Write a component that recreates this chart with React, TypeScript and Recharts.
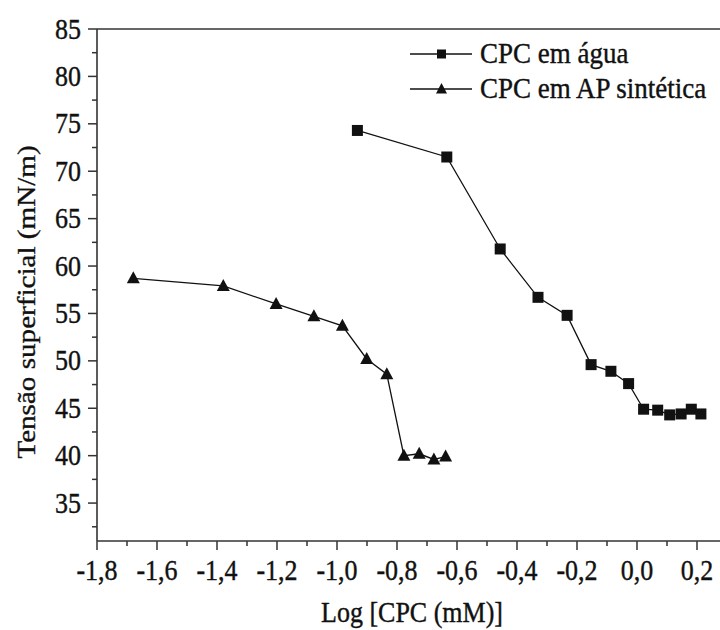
import React from 'react';
import { LineChart, Line, XAxis, YAxis, ReferenceLine, Legend, Label } from 'recharts';

// Log [CPC (mM)] vs tensão superficial (mN/m)
const aguaLogC = [-0.932, -0.634, -0.456, -0.33, -0.233, -0.153, -0.087, -0.028, 0.022, 0.069, 0.109, 0.147, 0.181, 0.213];
const aguaTensao = [74.3, 71.5, 61.8, 56.7, 54.8, 49.6, 48.9, 47.6, 44.9, 44.8, 44.3, 44.4, 44.9, 44.4];

const apLogC = [-1.679, -1.379, -1.203, -1.077, -0.982, -0.901, -0.834, -0.777, -0.726, -0.677, -0.638];
const apTensao = [58.7, 57.9, 56.0, 54.7, 53.7, 50.2, 48.6, 40.0, 40.2, 39.6, 39.9];

const seriesNames = ['CPC em água', 'CPC em AP sintética'];

const xTicks = [-1.8, -1.7, -1.6, -1.5, -1.4, -1.3, -1.2, -1.1, -1.0, -0.9, -0.8, -0.7, -0.6, -0.5, -0.4, -0.3, -0.2, -0.1, 0.0, 0.1, 0.2, 0.3];
const yTicks = [32.5, 35, 37.5, 40, 42.5, 45, 47.5, 50, 52.5, 55, 57.5, 60, 62.5, 65, 67.5, 70, 72.5, 75, 77.5, 80, 82.5, 85];

const aguaData = aguaLogC.map((x, i) => ({ logC: x, tensao: aguaTensao[i] }));
const apData = apLogC.map((x, i) => ({ logC: x, tensao: apTensao[i] }));

const FONT = 'Liberation Serif, Times New Roman, serif';
const AXIS = '#333';
const INK = '#111';
const STRETCH = 1.12;

const fmt = (v: number) => v.toFixed(1).replace('.', ',').replace('-0,0', '0,0');

const textProps = {
  fontFamily: FONT,
  fontSize: 26,
  fill: INK,
  stroke: INK,
  strokeWidth: 0.35,
};

const XTick = (props: any) => {
  const { x, y, payload } = props;
  const v = payload.value;
  const major = Math.round(v * 10) % 2 === 0;
  return (
    <g>
      <line x1={x} x2={x} y1={y} y2={y + (major ? 9 : 5)} stroke={AXIS} strokeWidth={1.5} />
      {major && (
        <text transform={`translate(${x},${y + 39}) scale(1,${STRETCH})`} textAnchor="middle" {...textProps}>
          {fmt(v)}
        </text>
      )}
    </g>
  );
};

const YTick = (props: any) => {
  const { x, y, payload } = props;
  const v = payload.value;
  const major = v % 5 === 0;
  return (
    <g>
      <line x1={x - (major ? 9 : 5)} x2={x} y1={y} y2={y} stroke={AXIS} strokeWidth={1.5} />
      {major && (
        <text transform={`translate(${x - 16},${y + 9.5}) scale(1,${STRETCH})`} textAnchor="end" {...textProps}>
          {v}
        </text>
      )}
    </g>
  );
};

const SquareDot = (p: any) => (
  <rect key={`sq-${p.index}`} x={p.cx - 5.5} y={p.cy - 5.5} width={11} height={11} fill={INK} />
);

const TriangleDot = (p: any) => (
  <polygon
    key={`tr-${p.index}`}
    points={`${p.cx},${p.cy - 7} ${p.cx + 6.5},${p.cy + 5} ${p.cx - 6.5},${p.cy + 5}`}
    fill={INK}
  />
);

const LegendBox = () => (
  <div
    style={{
      fontFamily: FONT,
      fontSize: 27,
      color: INK,
      lineHeight: '35px',
      WebkitTextStroke: `0.35px ${INK}`,
    }}
  >
    {seriesNames.map((name, i) => (
      <div key={name} style={{ display: 'flex', alignItems: 'center', height: 35 }}>
        <svg width={70} height={20}>
          <line x1={0} x2={62} y1={10} y2={10} stroke={INK} strokeWidth={1.3} />
          {i === 0 ? (
            <rect x={27} y={5.5} width={9} height={9} fill={INK} />
          ) : (
            <polygon points="31.5,4 37,14.5 26,14.5" fill={INK} />
          )}
        </svg>
        <span style={{ display: 'inline-block', transform: `scaleY(${STRETCH})` }}>{name}</span>
      </div>
    ))}
  </div>
);

const XTitle = (props: any) => {
  const vb = props.viewBox;
  return (
    <text
      transform={`translate(${vb.x + vb.width / 2},${vb.y + 81}) scale(1,${STRETCH})`}
      textAnchor="middle"
      {...textProps}
    >
      Log [CPC (mM)]
    </text>
  );
};

const YTitle = (props: any) => {
  const vb = props.viewBox;
  return (
    <text
      transform={`translate(35,${vb.y + vb.height / 2 + 17}) rotate(-90) scale(${STRETCH},1)`}
      textAnchor="middle"
      {...textProps}
    >
      Tensão superficial (mN/m)
    </text>
  );
};

export default function App() {
  return (
    <div style={{ position: 'fixed', left: 0, top: 0, width: 720, height: 630, overflow: 'hidden', background: '#fff' }}>
      <LineChart width={727} height={630} margin={{ top: 29, right: 0, bottom: 0, left: 0 }}>
        <XAxis
          dataKey="logC"
          type="number"
          domain={[-1.8, 0.3]}
          ticks={xTicks}
          interval={0}
          height={89}
          tickSize={0}
          tickMargin={0}
          tickLine={false}
          tick={<XTick />}
          axisLine={{ stroke: AXIS, strokeWidth: 1.6 }}
        >
          <Label content={<XTitle />} />
        </XAxis>
        <YAxis
          type="number"
          domain={[31, 85]}
          ticks={yTicks}
          interval={0}
          width={97}
          tickSize={0}
          tickMargin={0}
          tickLine={false}
          tick={<YTick />}
          axisLine={{ stroke: AXIS, strokeWidth: 1.6 }}
        >
          <Label content={<YTitle />} />
        </YAxis>
        <ReferenceLine y={85} stroke={AXIS} strokeWidth={1.6} />
        <Legend
          layout="horizontal"
          verticalAlign="middle"
          align="center"
          content={<LegendBox />}
          wrapperStyle={{ position: 'absolute', top: 36, left: 410, width: 320 }}
        />
        <Line
          data={aguaData}
          dataKey="tensao"
          name={seriesNames[0]}
          type="linear"
          stroke={INK}
          strokeWidth={1.3}
          dot={SquareDot}
          activeDot={false}
          isAnimationActive={false}
        />
        <Line
          data={apData}
          dataKey="tensao"
          name={seriesNames[1]}
          type="linear"
          stroke={INK}
          strokeWidth={1.3}
          dot={TriangleDot}
          activeDot={false}
          isAnimationActive={false}
        />
      </LineChart>
    </div>
  );
}
